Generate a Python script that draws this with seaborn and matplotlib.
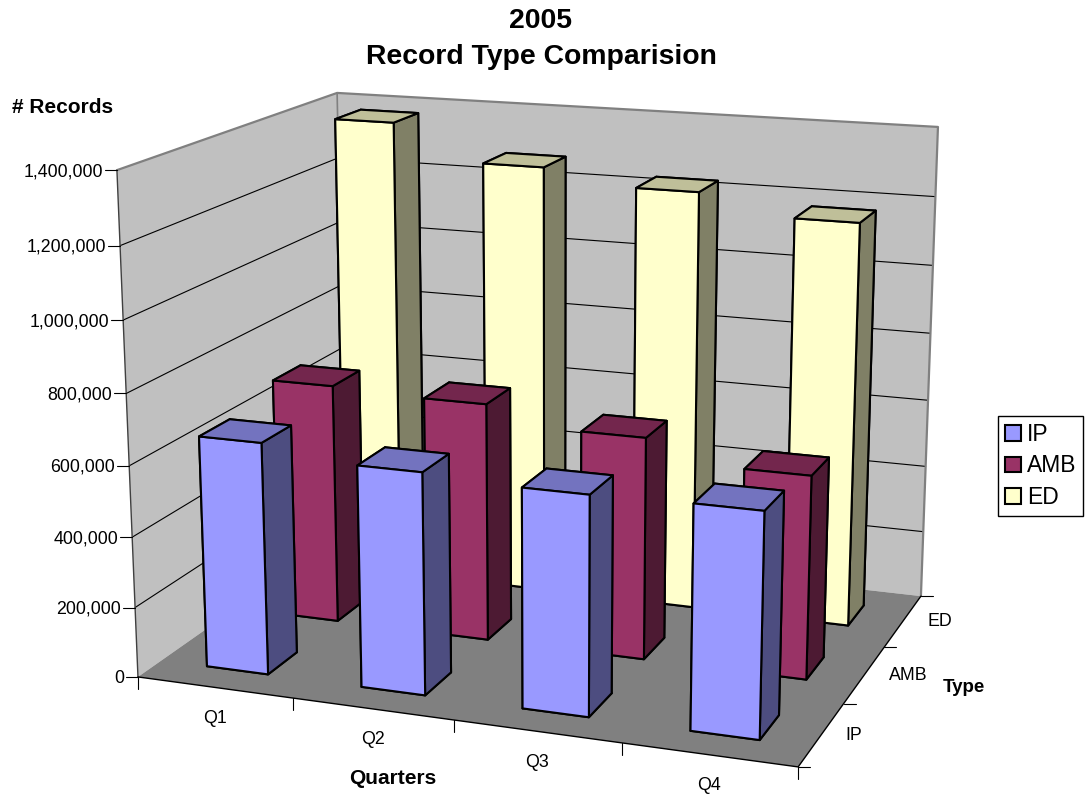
import numpy as np
import matplotlib
matplotlib.use("Agg")
import matplotlib.pyplot as plt
from matplotlib.patches import Patch
from mpl_toolkits.mplot3d.art3d import Poly3DCollection
import seaborn as sns

# Chart data
quarters = ["Q1", "Q2", "Q3", "Q4"]
record_types = ["IP", "AMB", "ED"]
ip_values = [658000, 623000, 610000, 616000]
amb_values = [700000, 690000, 638000, 578000]
ed_values = [1377000, 1274000, 1232000, 1176000]
z_ticks = [0, 200000, 400000, 600000, 800000, 1000000, 1200000, 1400000]
series_colors = ["#9999FF", "#993366", "#FFFFCC"]

W, H = 1085, 795
Z_MAX = z_ticks[-1]
N_X, N_Y = len(quarters), len(record_types)
BAR_SIZE = 0.4

sns.set_theme(style="white")
plt.rcParams["font.family"] = ["Liberation Sans", "DejaVu Sans"]
palette = sns.color_palette(series_colors)

fig = plt.figure(figsize=(W / 100, H / 100), dpi=100, facecolor="white")

# Box corners on the canvas, used to fit the perspective camera
box_corners = [
    ((0, 0, 0), (138, 677)),
    ((N_X, 0, 0), (798, 767)),
    ((N_X, N_Y, 0), (921, 596)),
    ((0, 0, 1), (117, 170)),
    ((0, N_Y, 1), (337, 93)),
    ((N_X, N_Y, 1), (938, 127)),
]


def fit_camera(corners):
    rows = []
    for (x, y, z), (px, py) in corners:
        p = [x, y, z, 1.0]
        rows.append(p + [0, 0, 0, 0] + [-px * c for c in p])
        rows.append([0, 0, 0, 0] + p + [-py * c for c in p])
    cam = np.linalg.svd(np.array(rows, float))[2][-1].reshape(3, 4)
    if cam[2] @ np.array([0, 0, 0, 1.0]) < 0:
        cam = -cam
    cam = cam.copy()
    cam[:, 2] /= Z_MAX
    return cam


CAMERA = fit_camera(box_corners)


def to_canvas(x, y, z):
    u, v, w = CAMERA @ np.array([x, y, z, 1.0])
    return u / w, v / w


ax = fig.add_axes([0, (H - W) / 2 / H, 1, W / H], projection="3d")
ax.set_axis_off()
ax.computed_zorder = False


def camera_matrix():
    # canvas pixels -> display -> the 2D coordinates of the 3D axes
    flip = np.array([[1, 0, 0], [0, -1, H], [0, 0, 1.0]])
    to_axes = ax.transData.inverted().get_matrix() @ flip
    uvw = to_axes @ CAMERA
    return np.vstack([uvw[0], uvw[1], [0, 0, 0, -1.0], uvw[2]])


ax.get_proj = camera_matrix


def add_panel(verts, color, zorder):
    panel = Poly3DCollection([verts], facecolors=color, edgecolors="none", linewidths=0)
    panel.set_zorder(zorder)
    ax.add_collection3d(panel)


# Walls and floor
add_panel([(0, 0, 0), (0, N_Y, 0), (0, N_Y, Z_MAX), (0, 0, Z_MAX)], "#C0C0C0", 1)
add_panel([(0, N_Y, 0), (N_X, N_Y, 0), (N_X, N_Y, Z_MAX), (0, N_Y, Z_MAX)], "#C0C0C0", 1)
add_panel([(0, 0, 0), (N_X, 0, 0), (N_X, N_Y, 0), (0, N_Y, 0)], "#808080", 3)

# Gridlines across both walls
for tick in z_ticks[1:-1]:
    ax.plot([0, 0, N_X], [0, N_Y, N_Y], [tick, tick, tick], color="black", lw=0.8, zorder=2)

# Box outline
edge_gray = "#808080"
ax.plot([0, 0, N_X, N_X], [0, N_Y, N_Y, N_Y], [Z_MAX, Z_MAX, Z_MAX, 0], color=edge_gray, lw=1.6, zorder=4)
ax.plot([0, 0], [N_Y, N_Y], [0, Z_MAX], color=edge_gray, lw=1.2, zorder=2)
ax.plot([0, 0], [0, 0], [0, Z_MAX], color="#404040", lw=1.0, zorder=4)
ax.plot([0, N_X, N_X], [0, 0, N_Y], [0, 0, 0], color="black", lw=1.0, zorder=4)

# Bars, drawn back row first
series = [ip_values, amb_values, ed_values]
for row in range(N_Y - 1, -1, -1):
    front = np.array(palette[row])
    faces = [tuple(front * 0.5), tuple(front * 0.75), tuple(front),
             tuple(front * 0.5), tuple(front * 0.5), tuple(front * 0.5)]
    for col, value in enumerate(series[row]):
        bar = ax.bar3d([col + 0.3], [row + 0.3], [0], [BAR_SIZE], [BAR_SIZE], [value],
                       color=faces, shade=False, edgecolor="black", linewidth=1.5)
        bar.set_zorder(10 + (N_Y - row) * 10 + col)

# Ticks, labels and legend on a flat canvas-sized layer
layer = fig.add_axes([0, 0, 1, 1], facecolor="none", zorder=5)
layer.set_xlim(0, W)
layer.set_ylim(H, 0)
layer.axis("off")

TICK_FONT = 12.8
for tick in z_ticks:
    px, py = to_canvas(0, 0, tick)
    layer.plot([px - 12, px], [py, py], color="black", lw=0.8)
    layer.text(px - 14, py + 1.5, f"{tick:,}", ha="right", va="center", fontsize=TICK_FONT, color="black")
for i in range(N_X + 1):
    px, py = to_canvas(i, 0, 0)
    layer.plot([px, px], [py, py + 12], color="black", lw=0.8)
for i, name in enumerate(quarters):
    px, py = to_canvas(i + 0.5, 0, 0)
    layer.text(px, py + 31, name, ha="center", va="center", fontsize=TICK_FONT, color="black")
for j in range(N_Y + 1):
    px, py = to_canvas(N_X, j, 0)
    layer.plot([px, px + 12], [py, py], color="black", lw=0.8)
for j, name in enumerate(record_types):
    px, py = to_canvas(N_X, j + 0.5, 0)
    layer.text(px + 24, py + 1, name, ha="left", va="center", fontsize=TICK_FONT, color="black")

layer.text(63, 107.5, "# Records", ha="center", va="center", fontsize=15, fontweight="bold", color="black")
layer.text(393, 779, "Quarters", ha="center", va="center", fontsize=15, fontweight="bold", color="black")
layer.text(964, 688, "Type", ha="center", va="center", fontsize=13.5, fontweight="bold", color="black")
layer.text(541, 20.5, "2005", ha="center", va="center", fontsize=20.4, fontweight="bold", color="black")
layer.text(541, 57.5, "Record Type Comparision", ha="center", va="center", fontsize=20.4, fontweight="bold", color="black")

handles = [Patch(facecolor=c, edgecolor="black", linewidth=1.5, label=n) for c, n in zip(palette, record_types)]
layer.legend(handles=handles, loc="center", bbox_to_anchor=(1040.5, 466), bbox_transform=layer.transData,
             fontsize=16.5, frameon=True, fancybox=False, framealpha=1, edgecolor="black", labelcolor="black",
             handlelength=0.72, handleheight=0.68, handletextpad=0.25, labelspacing=0.38, borderpad=0.31,
             borderaxespad=0)

fig.savefig("out.png", dpi=100)
